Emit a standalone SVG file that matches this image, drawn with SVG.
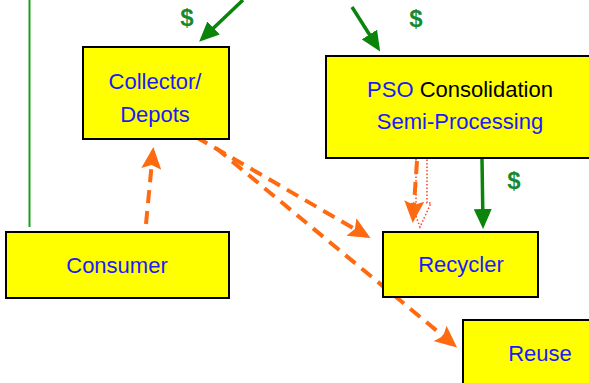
<svg xmlns="http://www.w3.org/2000/svg" width="589" height="383" viewBox="0 0 589 383">
<defs>
<style>
.box{fill:#ffff00;stroke:#000;stroke-width:2}
.lbl{font-family:"Liberation Sans",Arial,sans-serif;font-size:22px;fill:#1a1aff;text-anchor:middle}
.dol{font-family:"Liberation Sans",Arial,sans-serif;font-size:24px;font-weight:bold;fill:#178a2e;text-anchor:middle}
.g{stroke:#0a840a;stroke-width:3.5;fill:none}
.o{stroke:#ff6a10;stroke-width:4;fill:none;stroke-dasharray:13 8}
</style>
<marker id="ga" markerUnits="userSpaceOnUse" markerWidth="20" markerHeight="18" viewBox="0 0 20 18" refX="16" refY="9" orient="auto">
<path d="M0,0 L20,9 L0,18 Z" fill="#0a840a"/>
</marker>
<marker id="oa" markerUnits="userSpaceOnUse" markerWidth="22" markerHeight="20" viewBox="0 0 22 20" refX="18" refY="10" orient="auto">
<path d="M0,0 L22,10 L0,20 L4,10 Z" fill="#ff6a10"/>
</marker>
</defs>
<rect width="589" height="383" fill="#fff"/>
<g id="connectors">
<line x1="29.5" y1="0" x2="29.5" y2="227" stroke="#1aa01a" stroke-width="2"/>
<line class="g" x1="243" y1="0" x2="202" y2="39" marker-end="url(#ga)"/>
<line class="g" x1="352" y1="7" x2="378" y2="48" marker-end="url(#ga)"/>
<line class="g" x1="482" y1="159" x2="483" y2="225" marker-end="url(#ga)"/>
<path d="M416,159 L416,203 L411,203 L420,227 L431,203 L427,203 L427,159" fill="none" stroke="#ff4020" stroke-width="1.5" stroke-dasharray="1.5 2"/>
<line class="o" x1="417" y1="161" x2="413" y2="219" marker-end="url(#oa)"/>
<line class="o" x1="146" y1="224" x2="153" y2="151" marker-end="url(#oa)"/>
<line class="o" x1="196" y1="137" x2="367" y2="236" marker-end="url(#oa)"/>
<line class="o" x1="216" y1="148" x2="454" y2="345" marker-end="url(#oa)"/>
</g>
<g id="dollars">
<text class="dol" x="187" y="26">$</text>
<text class="dol" x="416" y="27">$</text>
<text class="dol" x="514" y="189">$</text>
</g>
<g id="collector">
<rect class="box" x="83" y="47" width="146" height="92"/>
<text class="lbl" x="155" y="89">Collector/</text>
<text class="lbl" x="155" y="122">Depots</text>
</g>
<g id="pso">
<rect class="box" x="326" y="56" width="270" height="102"/>
<text class="lbl" x="460" y="97"><tspan>PSO</tspan><tspan fill="#000"> Consolidation</tspan></text>
<text class="lbl" x="460" y="129">Semi-Processing</text>
</g>
<g id="consumer">
<rect class="box" x="6" y="232" width="223" height="66"/>
<text class="lbl" x="117" y="273">Consumer</text>
</g>
<g id="recycler">
<rect class="box" x="383" y="232" width="155" height="65"/>
<text class="lbl" x="461" y="272">Recycler</text>
</g>
<g id="reuse">
<rect class="box" x="463" y="320" width="160" height="80"/>
<text class="lbl" x="540" y="361">Reuse</text>
</g>
</svg>
